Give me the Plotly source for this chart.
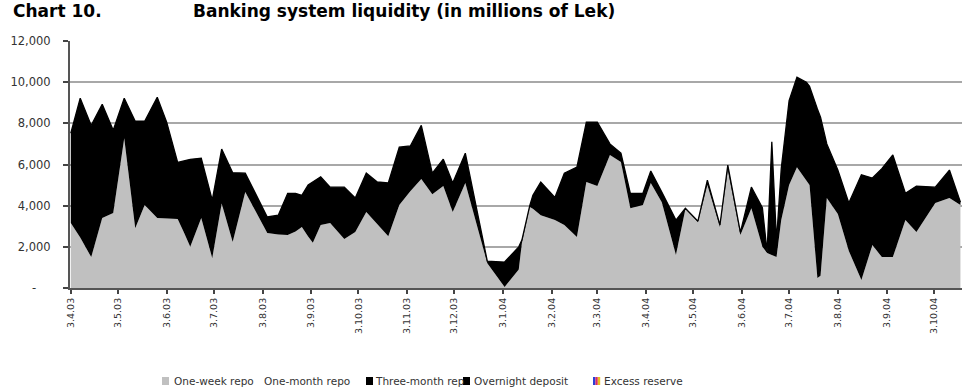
import plotly.graph_objects as go

# Observation dates (daily liquidity operations)
dates = [
    "2003-04-03", "2003-04-09", "2003-04-16", "2003-04-23", "2003-04-30",
    "2003-05-07", "2003-05-14", "2003-05-20", "2003-05-28", "2003-06-03",
    "2003-06-10", "2003-06-14", "2003-06-18", "2003-06-25", "2003-07-02",
    "2003-07-08", "2003-07-15", "2003-07-23", "2003-08-06", "2003-08-13",
    "2003-08-19", "2003-08-24", "2003-08-28", "2003-09-01", "2003-09-04",
    "2003-09-09", "2003-09-15", "2003-09-24", "2003-10-01", "2003-10-08",
    "2003-10-15", "2003-10-22", "2003-10-29", "2003-11-05", "2003-11-12",
    "2003-11-19", "2003-11-26", "2003-12-02", "2003-12-10", "2003-12-24",
    "2004-01-04", "2004-01-13", "2004-01-15", "2004-01-20", "2004-01-22",
    "2004-01-27", "2004-02-05", "2004-02-11", "2004-02-19", "2004-02-25",
    "2004-03-03", "2004-03-11", "2004-03-18", "2004-03-24", "2004-04-01",
    "2004-04-06", "2004-04-13", "2004-04-22", "2004-04-28", "2004-05-06",
    "2004-05-12", "2004-05-20", "2004-05-25", "2004-06-02", "2004-06-09",
    "2004-06-16", "2004-06-19", "2004-06-22", "2004-06-25", "2004-06-28",
    "2004-07-03", "2004-07-08", "2004-07-14", "2004-07-16", "2004-07-21",
    "2004-07-23", "2004-07-27", "2004-08-03", "2004-08-10", "2004-08-18",
    "2004-08-25", "2004-08-31", "2004-09-07", "2004-09-15", "2004-09-22",
    "2004-10-04", "2004-10-13", "2004-10-20",
]

# One-week repo (millions of Lek)
one_week_repo = [
    3160, 2450, 1500, 3400, 3640, 7280, 2900, 4030, 3400, 3370,
    3350, 2700, 2000, 3400, 1450, 4100, 2230, 4660, 2670, 2600,
    2570, 2750, 2960, 2500, 2200, 3060, 3160, 2380, 2720, 3690,
    3100, 2520, 4030, 4700, 5300, 4560, 4950, 3690, 5100, 1200,
    50, 900, 2180, 3930, 3850, 3540, 3300, 3060, 2480, 5150,
    4950, 6460, 6120, 3880, 4030, 5100, 4170, 1600, 3830, 3200,
    5000, 2960, 5730, 2570, 3880, 2000, 1700, 1600, 1500, 3300,
    5000, 5870, 5240, 5000, 490, 600, 4370, 3600, 1800, 390,
    2090, 1500, 1500, 3300, 2720, 4130, 4370, 4030,
]

# Overnight deposit (millions of Lek), stacked above the repo
overnight_deposit = [
    4360, 6770, 6400, 5530, 4030, 1940, 5200, 4070, 5870, 4690,
    2750, 3470, 4250, 2900, 2820, 2650, 3370, 920, 780, 940,
    2030, 1850, 1540, 2500, 2950, 2340, 1740, 2520, 1650, 1890,
    2050, 2580, 2810, 2200, 2600, 1020, 1310, 1410, 1450, 100,
    1210, 1100, 150, 70, 650, 1610, 1100, 2520, 3390, 2910,
    3110, 540, 430, 720, 570, 580, 490, 1700, 50, 50,
    240, 100, 240, 130, 1020, 1900, 50, 5500, 800, 2500,
    4100, 4370, 4760, 4800, 8210, 7700, 2630, 2130, 2330, 5110,
    3250, 4300, 4960, 1300, 2230, 770, 1360, 140,
]

# Monthly tick marks and their labels
tick_dates = [
    "2003-04-03", "2003-05-03", "2003-06-03", "2003-07-03", "2003-08-03",
    "2003-09-03", "2003-10-03", "2003-11-03", "2003-12-03", "2004-01-03",
    "2004-02-03", "2004-03-03", "2004-04-03", "2004-05-03", "2004-06-03",
    "2004-07-03", "2004-08-03", "2004-09-03", "2004-10-03",
]
tick_labels = [
    "3.4.03", "3.5.03", "3.6.03", "3.7.03", "3.8.03", "3.9.03", "3.10.03",
    "3.11.03", "3.12.03", "3.1.04", "3.2.04", "3.3.04", "3.4.04", "3.5.04",
    "3.6.04", "3.7.04", "3.8.04", "3.9.04", "3.10.04",
]

y_ticks = [0, 2000, 4000, 6000, 8000, 10000, 12000]
y_labels = ["-\u00a0\u00a0\u00a0\u00a0", "2,000", "4,000", "6,000", "8,000", "10,000", "12,000"]

legend_names = ["One-week repo", "One-month repo", "Three-month rep",
                "Overnight deposit", "Excess reserve"]

W, H = 962, 390
ML, MR, MT, MB = 70, 0, 41, 102
PW, PH = W - ML - MR, H - MT - MB


def px(x):
    return (x - ML) / PW


def py(y):
    return (H - MB - y) / PH


fig = go.Figure()
fig.add_trace(go.Scatter(
    x=dates, y=one_week_repo, name=legend_names[0], stackgroup="liq",
    mode="lines", line=dict(width=0, color="#c0c0c0"), fillcolor="#c0c0c0",
    showlegend=False,
))
fig.add_trace(go.Scatter(
    x=dates, y=overnight_deposit, name=legend_names[3], stackgroup="liq",
    mode="lines", line=dict(width=1.3, color="#000000"), fillcolor="#000000",
    showlegend=False,
))

font_family = "DejaVu Sans"
annotations = [
    dict(text="<b>Chart 10.</b>", x=px(11), y=py(11), xref="paper", yref="paper",
         xanchor="left", yanchor="middle", showarrow=False,
         font=dict(family=font_family, size=17, color="#000")),
    dict(text="<b>Banking system liquidity (in millions of Lek)</b>", x=px(191), y=py(11),
         xref="paper", yref="paper", xanchor="left", yanchor="middle", showarrow=False,
         font=dict(family=font_family, size=17, color="#000")),
]

# Legend row drawn beneath the axis
legend_y = 381
legend_items = [
    (172, legend_names[0]),
    (262, legend_names[1]),
    (373, legend_names[2]),
    (472, legend_names[3]),
    (602, legend_names[4]),
]
for lx, name in legend_items:
    annotations.append(dict(
        text=name, x=px(lx), y=py(legend_y), xref="paper", yref="paper",
        xanchor="left", yanchor="middle", showarrow=False,
        font=dict(family=font_family, size=10.5, color="#333"),
    ))

shapes = []


def swatch(x0, color):
    shapes.append(dict(type="rect", xref="paper", yref="paper",
                       x0=px(x0), x1=px(x0 + 7), y0=py(legend_y + 4), y1=py(legend_y - 4),
                       fillcolor=color, line=dict(width=0), layer="above"))


swatch(162, "#c0c0c0")
swatch(366, "#000000")
swatch(463, "#000000")
for i, c in enumerate(["#2b3fd6", "#d62b6a", "#e8c020"]):
    x0 = 593 + i * 2.4
    shapes.append(dict(type="rect", xref="paper", yref="paper",
                       x0=px(x0), x1=px(x0 + 2.4), y0=py(legend_y + 4), y1=py(legend_y - 4),
                       fillcolor=c, line=dict(width=0), layer="above"))

fig.update_layout(
    width=W, height=H,
    margin=dict(l=ML, r=MR, t=MT, b=MB),
    paper_bgcolor="white", plot_bgcolor="white",
    showlegend=False,
    annotations=annotations,
    shapes=shapes,
    xaxis=dict(
        type="date", range=["2003-04-02 12:00", "2004-10-21 00:00"],
        tickmode="array", tickvals=tick_dates, ticktext=tick_labels,
        tickangle=-90, ticks="outside", ticklen=4, tickwidth=1.5, tickcolor="#444",
        showline=True, linecolor="#555", linewidth=2, showgrid=False, zeroline=False,
        tickfont=dict(family=font_family, size=9.5, color="#333"),
    ),
    yaxis=dict(
        range=[0, 12000], tickmode="array", tickvals=y_ticks, ticktext=y_labels,
        ticks="outside", ticklen=5, tickwidth=1.5, tickcolor="#444",
        showline=True, linecolor="#555", linewidth=2,
        showgrid=True, gridcolor="#a8a8a8", gridwidth=2, zeroline=False,
        ticklabelstandoff=10,
        tickfont=dict(family=font_family, size=11.5, color="#333"),
    ),
)

fig.write_html("out.html")
